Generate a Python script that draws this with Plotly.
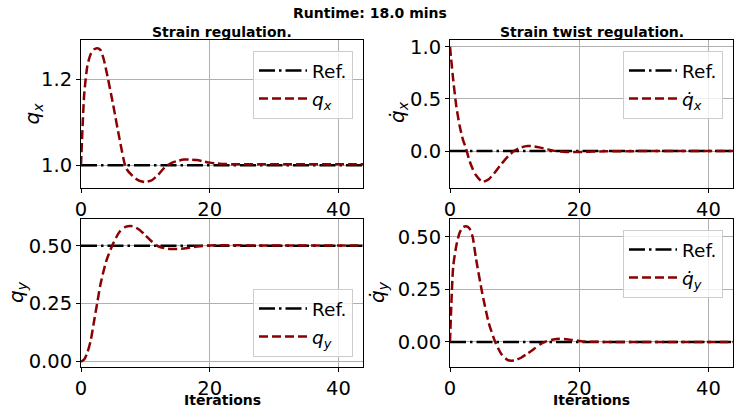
import plotly.graph_objects as go

# ---------------- data ----------------
iterations = [0, 0.5, 1, 1.5, 2, 2.5, 3, 3.5, 4,
              5, 6, 7, 8, 9, 10, 11, 12, 13, 14, 15, 16, 17, 18, 19, 20, 21, 22,
              24, 26, 28, 30, 32, 34, 36, 38, 40, 42, 44]

q_x = [1.0, 1.165, 1.232, 1.258, 1.269, 1.272, 1.268, 1.248, 1.215,
       1.14, 1.06, 0.993, 0.975, 0.964, 0.961, 0.965, 0.978, 0.995, 1.005, 1.010,
       1.013, 1.013, 1.012, 1.009, 1.006, 1.004, 1.003,
       1.002, 1.002, 1.002, 1.002, 1.002, 1.002, 1.002, 1.002, 1.002, 1.002, 1.002]

qdot_x = [1.0, 0.68, 0.42, 0.24, 0.11, 0.02, -0.09, -0.17, -0.23,
          -0.295, -0.27, -0.2, -0.12, -0.05, 0.005, 0.035, 0.048, 0.045, 0.033, 0.018,
          0.004, -0.005, -0.009, -0.01, -0.009, -0.007, -0.005,
          -0.003, -0.002, -0.001, 0, 0, 0, 0, 0, 0, 0, 0]

q_y = [0, 0.01, 0.04, 0.09, 0.17, 0.25, 0.33, 0.39, 0.44,
       0.51, 0.56, 0.582, 0.584, 0.57, 0.545, 0.518, 0.497, 0.489, 0.486, 0.486,
       0.488, 0.492, 0.496, 0.499, 0.501, 0.502, 0.502,
       0.502, 0.501, 0.501, 0.501, 0.501, 0.501, 0.501, 0.501, 0.501, 0.501, 0.501]

qdot_y = [0, 0.36, 0.46, 0.52, 0.545, 0.55, 0.54, 0.5, 0.4,
          0.23, 0.09, 0.0, -0.06, -0.087, -0.088, -0.075, -0.055, -0.033, -0.01, 0.004,
          0.012, 0.015, 0.013, 0.009, 0.005, 0.002, 0.001,
          0, 0, 0, 0, 0, 0, 0, 0, 0, 0, 0]

ref_values = [1.0, 0.0, 0.5, 0.0]
series = [q_x, qdot_x, q_y, qdot_y]
series_names = ["<i>q</i><sub><i>x</i></sub>", "<i>q̇</i><sub><i>x</i></sub>",
                "<i>q</i><sub><i>y</i></sub>", "<i>q̇</i><sub><i>y</i></sub>"]
y_ranges = [[0.947, 1.291], [-0.354, 1.064], [-0.023, 0.615], [-0.119, 0.584]]
y_ticks = [[1.0, 1.2], [0.0, 0.5, 1.0], [0.0, 0.25, 0.5], [0.0, 0.25, 0.5]]
y_ticktext = [["1.0", "1.2"], ["0.0", "0.5", "1.0"], ["0.00", "0.25", "0.50"], ["0.00", "0.25", "0.50"]]
x_ticks = [0, 20, 40]
x_range = [0, 43.8]

W, H = 734, 406
FONT = "DejaVu Sans"
TICK = 19.5

# axes boxes in pixels (left, right, top, bottom)
boxes = [(81, 363, 40, 188), (450, 733, 40, 188),
         (81, 363, 219, 367), (450, 733, 219, 367)]

fig = go.Figure()
layout = dict(width=W, height=H, margin=dict(l=0, r=0, t=0, b=0, autoexpand=False),
              plot_bgcolor="white", paper_bgcolor="white",
              font=dict(family=FONT, size=TICK, color="black"))

legend_pos = [(353, 51, "top"), (723, 51, "top"), (353, 357, "bottom"), (723, 230, "top")]

for i in range(4):
    ax = "" if i == 0 else str(i + 1)
    l, r, t, b = boxes[i]
    legname = "legend" if i == 0 else f"legend{i + 1}"
    fig.add_trace(go.Scatter(
        x=[x_range[0], x_range[1]], y=[ref_values[i], ref_values[i]],
        mode="lines", name="Ref.", legendgroup=f"ref{i}",
        line=dict(color="black", width=2.5, dash="16px,4px,2.5px,4px"),
        xaxis="x" + ax, yaxis="y" + ax, legend=legname, showlegend=True))
    fig.add_trace(go.Scatter(
        x=iterations, y=series[i], mode="lines", name=series_names[i], legendgroup=f"q{i}",
        line=dict(color="#8b0000", width=2.5, dash="9px,4px", shape="spline", smoothing=0.6),
        xaxis="x" + ax, yaxis="y" + ax, legend=legname, showlegend=True))

    layout["xaxis" + ax] = dict(
        domain=[l / W, r / W], range=x_range, anchor="y" + ax, automargin=False,
        tickvals=x_ticks, ticktext=[str(v) for v in x_ticks],
        showgrid=True, gridcolor="#b0b0b0", gridwidth=1,
        showline=True, mirror=True, linecolor="black", linewidth=1,
        ticks="outside", ticklen=4, tickcolor="black",
        zeroline=False, tickfont=dict(size=TICK, family=FONT))
    layout["yaxis" + ax] = dict(
        domain=[1 - b / H, 1 - t / H], range=y_ranges[i], anchor="x" + ax, automargin=False,
        tickvals=y_ticks[i], ticktext=y_ticktext[i],
        showgrid=True, gridcolor="#b0b0b0", gridwidth=1,
        showline=True, mirror=True, linecolor="black", linewidth=1,
        ticks="outside", ticklen=4, tickcolor="black",
        zeroline=False, tickfont=dict(size=TICK, family=FONT))

    lx, ly, anc = legend_pos[i]
    layout[legname] = dict(
        x=lx / W, y=1 - ly / H, xanchor="right", yanchor=anc,
        xref="paper", yref="paper", itemwidth=48,
        bgcolor="rgba(255,255,255,0.8)", bordercolor="#cccccc", borderwidth=1,
        font=dict(size=18.5, family=FONT), tracegroupgap=1)

annotations = [
    dict(text="<b>Runtime: 18.0 mins</b>", x=370 / W, y=1 - 13 / H, font=dict(size=14)),
    dict(text="<b>Strain regulation.</b>", x=222 / W, y=1 - 32 / H, font=dict(size=14)),
    dict(text="<b>Strain twist regulation.</b>", x=591.5 / W, y=1 - 32 / H, font=dict(size=14)),
    dict(text="<b>Iterations</b>", x=222 / W, y=1 - 399.5 / H, font=dict(size=14)),
    dict(text="<b>Iterations</b>", x=591.5 / W, y=1 - 399.5 / H, font=dict(size=14)),
    dict(text=series_names[0], x=32.5 / W, y=1 - 114 / H, textangle=-90, font=dict(size=20)),
    dict(text=series_names[1], x=398 / W, y=1 - 112 / H, textangle=-90, font=dict(size=20)),
    dict(text=series_names[2], x=17 / W, y=1 - 292 / H, textangle=-90, font=dict(size=20)),
    dict(text=series_names[3], x=378 / W, y=1 - 292 / H, textangle=-90, font=dict(size=20)),
]
for a in annotations:
    a.update(xref="paper", yref="paper", showarrow=False, xanchor="center", yanchor="middle")
    a["font"]["family"] = FONT
    a["font"]["color"] = "black"
layout["annotations"] = annotations

fig.update_layout(**layout)
fig.write_html("out.html", config={"displayModeBar": False},
               post_script="document.body.style.margin='0';document.body.style.overflow='hidden';")
